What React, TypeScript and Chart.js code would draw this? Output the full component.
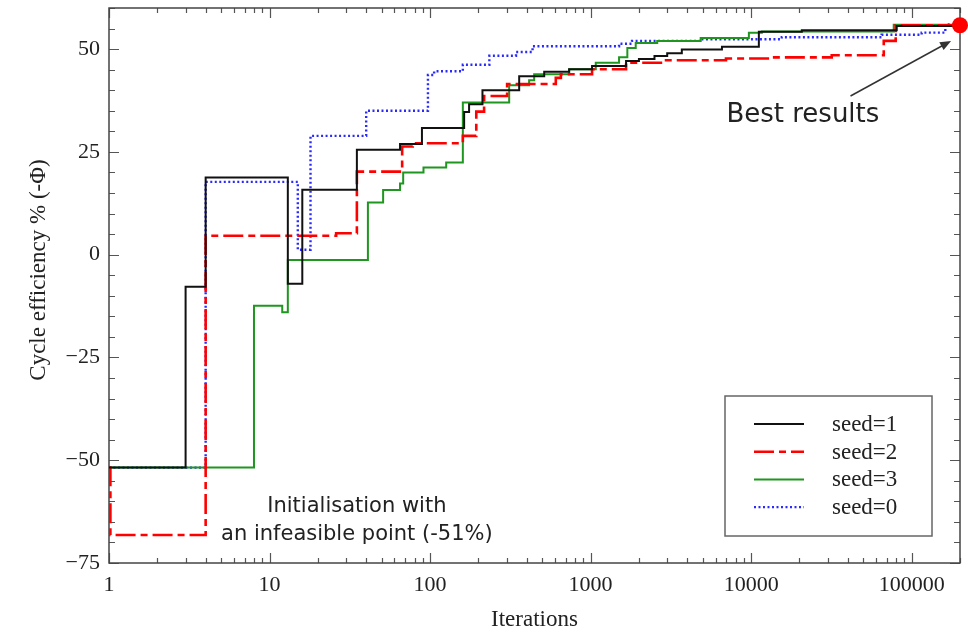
import React, { useEffect, useRef } from "react";
import { Chart, registerables } from "chart.js";

Chart.register(...registerables);

// ---- data ----
const seriesLabels = ["seed=1", "seed=2", "seed=3", "seed=0"];

const seed1Iter = [1, 3, 4, 13, 16, 35, 65, 89, 163, 175, 212, 359, 514, 735, 1021, 1663, 2000, 2500, 3000, 3700, 6580, 11170, 20690, 80700, 200000];
const seed1Eff = [-51.8, -7.8, 18.8, -7.1, 15.8, 25.5, 26.9, 30.8, 34.7, 36.6, 40.0, 43.4, 44.5, 45.1, 45.9, 47.1, 47.6, 48.3, 49.0, 49.9, 50.6, 54.2, 54.6, 55.6, 55.7];

const seed2Iter = [1, 1.02, 4, 26, 35, 67, 78, 160, 194, 217, 302, 607, 653, 1021, 1663, 2950, 6970, 13460, 31770, 67000, 79500, 200000];
const seed2Eff = [-51.8, -68.2, 4.6, 5.2, 20.2, 26.3, 27.1, 28.9, 34.8, 38.6, 41.5, 43.0, 43.9, 45.1, 46.7, 47.3, 47.7, 48.0, 48.5, 52.0, 55.8, 55.8];

const seed3Iter = [1, 8, 12, 13, 41, 51, 65, 68, 91, 126, 160, 311, 414, 445, 735, 1077, 1504, 1694, 1910, 2600, 4850, 9680, 11660, 77300, 200000];
const seed3Eff = [-51.8, -12.4, -14.0, -1.3, 12.7, 15.7, 17.3, 20.0, 21.2, 22.4, 37.0, 41.2, 42.4, 43.9, 45.1, 46.7, 48.0, 50.3, 51.5, 52.0, 52.7, 54.0, 54.3, 55.9, 55.9];

const seed0Iter = [1, 4, 15, 18, 40, 97, 106, 160, 234, 343, 435, 1504, 1812, 4900, 15520, 65000, 115400, 162000, 200000];
const seed0Eff = [-51.8, 17.7, 1.2, 28.9, 35.0, 43.7, 44.6, 46.2, 48.4, 49.3, 50.7, 51.3, 52.0, 52.4, 52.9, 53.5, 54.0, 56.0, 56.0];

const bestIter = [200000];
const bestEff = [55.8];

const xTickValues = [1, 10, 100, 1000, 10000, 100000];
const yTickValues = [-75, -50, -25, 0, 25, 50];
const xMin = 1;
const xMax = 200000;
const yMin = -75;
const yMax = 60;

const xTitle = "Iterations";
const yTitle = "Cycle efficiency % (-\u03A6)";
const initNoteLines = ["Initialisation with", "an infeasible point (-51%)"];
const bestNote = "Best results";

const toPoints = (xs: number[], ys: number[]) => xs.map((x, i) => ({ x, y: ys[i] }));

const SERIF = "'Liberation Serif', 'Times New Roman', serif";
const SANS = "'DejaVu Sans', Verdana, sans-serif";

const decorPlugin = {
  id: "decor",
  beforeDatasetsDraw(chart: any) {
    const { ctx, chartArea } = chart;
    const { left, top, right, bottom } = chartArea;
    const xs = chart.scales.x;
    const ys = chart.scales.y;
    ctx.save();
    ctx.strokeStyle = "#555";
    ctx.lineWidth = 1.2;
    // x ticks (bottom & top)
    ctx.beginPath();
    for (let d = 0; d <= 5; d++) {
      for (let m = 1; m <= 9; m++) {
        const v = m * Math.pow(10, d);
        if (v > xMax) break;
        const px = Math.round(xs.getPixelForValue(v)) + 0.5;
        const len = m === 1 ? 10 : 5;
        ctx.moveTo(px, bottom);
        ctx.lineTo(px, bottom - len);
        ctx.moveTo(px, top);
        ctx.lineTo(px, top + len);
      }
    }
    // y ticks (left & right)
    for (let v = yMin; v <= yMax; v += 5) {
      const py = Math.round(ys.getPixelForValue(v)) + 0.5;
      const len = v % 25 === 0 ? 10 : 6;
      ctx.moveTo(left, py);
      ctx.lineTo(left + len, py);
      ctx.moveTo(right, py);
      ctx.lineTo(right - len, py);
    }
    ctx.stroke();
    // frame
    ctx.strokeStyle = "#444";
    ctx.lineWidth = 1.5;
    ctx.strokeRect(left, top, right - left, bottom - top);
    ctx.restore();
  },
  afterDraw(chart: any) {
    const { ctx, chartArea } = chart;
    const { left, top, right, bottom } = chartArea;
    const xs = chart.scales.x;
    const ys = chart.scales.y;
    ctx.save();
    // axis titles
    ctx.fillStyle = "#222";
    ctx.font = `23px ${SERIF}`;
    ctx.textAlign = "center";
    ctx.textBaseline = "middle";
    ctx.fillText(xTitle, (left + right) / 2, 620);
    ctx.save();
    ctx.translate(39, 270);
    ctx.rotate(-Math.PI / 2);
    ctx.fillText(yTitle, 0, 0);
    ctx.restore();

    // initialisation note
    ctx.fillStyle = "#222";
    ctx.font = `21px ${SANS}`;
    const ix = xs.getPixelForValue(35);
    ctx.fillText(initNoteLines[0], ix, ys.getPixelForValue(-61.2));
    ctx.fillText(initNoteLines[1], ix, ys.getPixelForValue(-68.0));

    // best results note + arrow
    ctx.font = `26px ${SANS}`;
    ctx.fillText(bestNote, xs.getPixelForValue(21000), ys.getPixelForValue(34.0));
    const ax0 = xs.getPixelForValue(41600);
    const ay0 = ys.getPixelForValue(38.6);
    const ax1 = xs.getPixelForValue(176000);
    const ay1 = ys.getPixelForValue(52.0);
    const ang = Math.atan2(ay1 - ay0, ax1 - ax0);
    ctx.strokeStyle = "#333";
    ctx.fillStyle = "#333";
    ctx.lineWidth = 1.5;
    ctx.beginPath();
    ctx.moveTo(ax0, ay0);
    ctx.lineTo(ax1 - 8 * Math.cos(ang), ay1 - 8 * Math.sin(ang));
    ctx.stroke();
    const hl = 11, hw = 4.5;
    ctx.beginPath();
    ctx.moveTo(ax1, ay1);
    ctx.lineTo(ax1 - hl * Math.cos(ang) + hw * Math.sin(ang), ay1 - hl * Math.sin(ang) - hw * Math.cos(ang));
    ctx.lineTo(ax1 - hl * Math.cos(ang) - hw * Math.sin(ang), ay1 - hl * Math.sin(ang) + hw * Math.cos(ang));
    ctx.closePath();
    ctx.fill();

    // legend
    const bw = 207, bh = 140;
    const bx = right - 28 - bw;
    const by = bottom - 27 - bh;
    ctx.fillStyle = "#fff";
    ctx.fillRect(bx, by, bw, bh);
    ctx.strokeStyle = "#666";
    ctx.lineWidth = 1.5;
    ctx.strokeRect(bx, by, bw, bh);
    const lineDs = chart.data.datasets.filter((d: any) => d.isSeries);
    lineDs.forEach((d: any, i: number) => {
      const ry = by + 28 + i * 27.7;
      ctx.save();
      ctx.strokeStyle = d.borderColor;
      ctx.lineWidth = d.borderWidth;
      ctx.setLineDash(d.borderDash || []);
      ctx.beginPath();
      ctx.moveTo(bx + 29, ry);
      ctx.lineTo(bx + 79, ry);
      ctx.stroke();
      ctx.restore();
      ctx.fillStyle = "#222";
      ctx.font = `23px ${SERIF}`;
      ctx.textAlign = "left";
      ctx.textBaseline = "middle";
      ctx.fillText(d.label, bx + 107, ry + 1);
    });
    ctx.restore();
  },
};

export default function App() {
  const canvasRef = useRef<HTMLCanvasElement | null>(null);

  useEffect(() => {
    if (!canvasRef.current) return;
    const common = { pointRadius: 0, stepped: true, fill: false, tension: 0 };
    const chart = new Chart(canvasRef.current, {
      type: "line",
      data: {
        datasets: [
          {
            label: "best",
            data: toPoints(bestIter, bestEff),
            showLine: false,
            pointRadius: 8,
            pointBackgroundColor: "#ff0000",
            pointBorderColor: "#ff0000",
            pointBorderWidth: 0,
            clip: false as any,
          } as any,
          { ...common, label: seriesLabels[0], isSeries: true, data: toPoints(seed1Iter, seed1Eff), borderColor: "#111111", borderWidth: 2 } as any,
          { ...common, label: seriesLabels[1], isSeries: true, data: toPoints(seed2Iter, seed2Eff), borderColor: "#ff0000", borderWidth: 2.6, borderDash: [20, 5, 7, 5] } as any,
          { ...common, label: seriesLabels[2], isSeries: true, data: toPoints(seed3Iter, seed3Eff), borderColor: "#1f961f", borderWidth: 2 } as any,
          { ...common, label: seriesLabels[3], isSeries: true, data: toPoints(seed0Iter, seed0Eff), borderColor: "#2a2aff", borderWidth: 2.4, borderDash: [2, 2.5] } as any,
        ],
      },
      options: {
        animation: false,
        responsive: false,
        devicePixelRatio: 1,
        layout: { padding: { top: 7, right: 5, left: 0, bottom: 0 } },
        plugins: { legend: { display: false }, tooltip: { enabled: false } },
        scales: {
          x: {
            type: "logarithmic",
            min: xMin,
            max: xMax,
            afterBuildTicks: (s: any) => {
              s.ticks = xTickValues.map((v) => ({ value: v }));
            },
            afterFit: (s: any) => {
              s.height = 70;
              s.paddingLeft = 0;
              s.paddingRight = 0;
            },
            grid: { display: false, drawTicks: false },
            border: { display: false },
            ticks: {
              autoSkip: false,
              maxRotation: 0,
              padding: 9,
              color: "#222",
              font: { family: SERIF, size: 22 },
              callback: (v: any) => String(v),
            },
          },
          y: {
            type: "linear",
            min: yMin,
            max: yMax,
            afterBuildTicks: (s: any) => {
              s.ticks = yTickValues.map((v) => ({ value: v }));
            },
            afterFit: (s: any) => {
              s.width = 109;
              s.paddingTop = 0;
              s.paddingBottom = 0;
            },
            grid: { display: false, drawTicks: false },
            border: { display: false },
            ticks: {
              padding: 9,
              color: "#222",
              font: { family: SERIF, size: 22 },
              callback: (v: any) => (v < 0 ? "\u2212" + Math.abs(v) : String(v)),
            },
          },
        },
      },
      plugins: [decorPlugin],
    } as any);
    return () => chart.destroy();
  }, []);

  return (
    <div style={{ position: "absolute", left: 0, top: 0, width: 968, height: 633, background: "#fff" }}>
      <canvas ref={canvasRef} width={968} height={633} />
    </div>
  );
}
